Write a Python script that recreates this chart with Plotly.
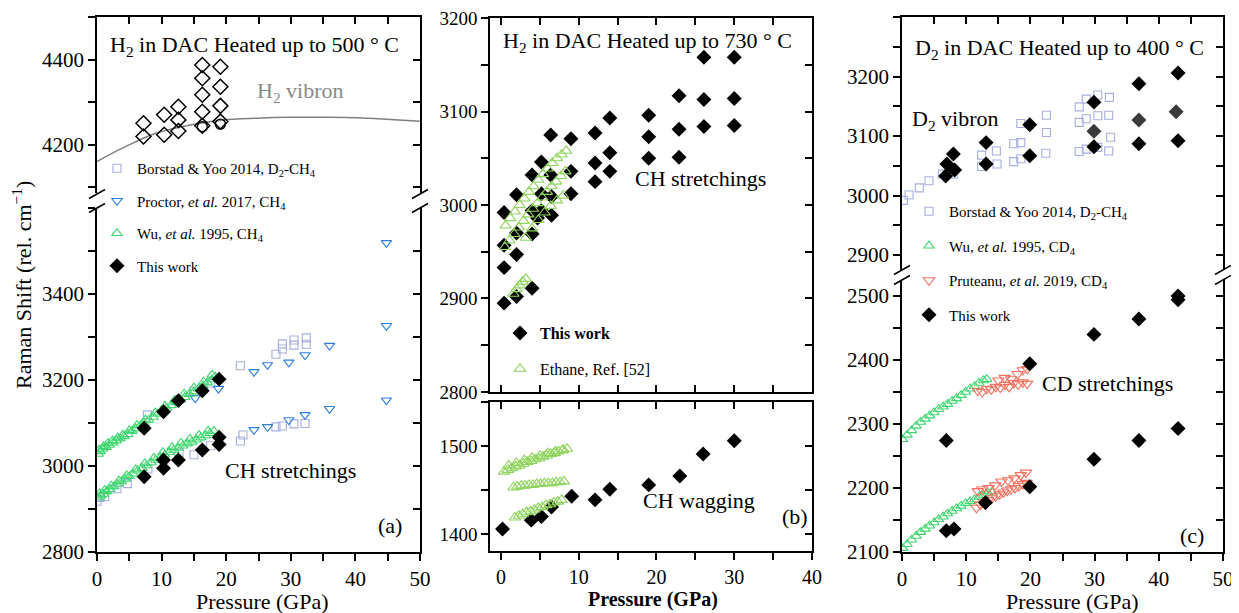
import plotly.graph_objects as go

W, H = 1239, 613
OFF = 8  # the page body margin shifts the figure by 8 px; compensate
FONT = "Liberation Serif"

# ---------------- Panel (a) data ----------------
a_h2_P = [7.2, 7.2, 10.4, 10.4, 12.6, 12.6, 12.6, 16.3, 16.3, 16.3, 16.3, 16.3, 19.1, 19.1, 19.1, 19.1]
a_h2_v = [4251, 4220, 4271, 4224, 4290, 4259, 4233, 4388, 4357, 4318, 4278, 4245, 4384, 4337, 4292, 4255]
a_h2c_P = [16.3, 19.1]
a_h2c_v = [4243, 4249]
a_vib_P = [0.0, 4.0, 9.2, 14.4, 19.5, 24.7, 29.9, 35.0, 40.2, 45.4, 50.0]
a_vib_v = [4161, 4193, 4228, 4247, 4259, 4263, 4265, 4265, 4264, 4260, 4256]

a_bor_P = [0.0, 0.5, 1.2, 3.1, 4.7, 7.9, 12.7, 15.0, 17.6, 22.2, 22.6, 27.7, 28.7, 30.5, 32.2,
           7.8, 15.0, 17.6, 22.2, 27.7, 28.7, 28.7, 30.5, 30.5, 32.4, 32.4]
a_bor_v = [2918, 2927, 2929, 2947, 2959, 2993, 3030, 3026, 3047, 3058, 3072, 3091, 3093, 3098, 3099,
           3119, 3174, 3193, 3233, 3260, 3284, 3272, 3293, 3281, 3298, 3283]

a_pro_P = [15.2, 18.8, 24.3, 26.4, 29.7, 32.2, 36.0, 44.8, 44.8, 24.3, 26.4, 29.7, 32.2, 36.0, 44.8]
a_pro_v = [3158, 3180, 3219, 3235, 3241, 3258, 3280, 3519, 3326, 3084, 3091, 3107, 3119, 3133, 3153]

a_wu_P = [0.2, 0.5, 0.9, 1.4, 1.9, 2.5, 3.0, 3.6, 4.2, 4.8, 5.4, 6.0, 6.7, 7.3, 8.0, 8.7, 9.4, 10.1,
          10.8, 11.5, 12.2, 12.9, 13.6, 14.3, 15.0, 15.7, 16.4, 17.1, 17.8, 18.3,
          0.3, 1.0, 1.7, 2.4, 3.2, 4.0, 5.0, 6.2, 7.5, 9.0, 10.5, 12.0, 13.5, 15.0, 16.5, 17.8,
          0.2, 0.6, 1.0, 1.5, 2.0, 2.6, 3.2, 3.8, 4.4, 5.0, 5.6, 6.3, 7.0, 7.7, 8.4, 9.1, 9.8, 10.5,
          11.2, 11.9, 12.6, 13.3, 14.0, 14.7, 15.4, 16.1, 16.8, 17.5, 18.1,
          0.4, 1.2, 2.2, 3.4, 4.6, 6.0, 7.4, 8.8, 10.2, 11.6, 13.0, 14.4, 15.8, 17.2]
a_wu_v = [3028, 3034, 3040, 3044, 3049, 3054, 3059, 3064, 3069, 3074, 3081, 3087, 3094, 3100, 3107, 3114,
          3121, 3128, 3135, 3141, 3148, 3154, 3160, 3167, 3173, 3180, 3187, 3194, 3201, 3207,
          3038, 3046, 3053, 3059, 3066, 3073, 3083, 3095, 3108, 3124, 3140, 3153, 3168, 3182, 3196, 3212,
          2926, 2931, 2935, 2941, 2946, 2952, 2958, 2964, 2970, 2976, 2982, 2989, 2995, 3001, 3008, 3014,
          3020, 3026, 3032, 3037, 3042, 3047, 3052, 3056, 3061, 3066, 3071, 3076, 3081,
          2936, 2944, 2954, 2966, 2978, 2992, 3006, 3019, 3032, 3044, 3054, 3063, 3072, 3082]

a_tw_P = [7.3, 10.3, 12.6, 16.3, 18.9, 7.3, 10.3, 10.3, 12.6, 16.3, 18.9, 18.9]
a_tw_v = [3088, 3126, 3152, 3175, 3202, 2975, 3014, 2995, 3014, 3037, 3067, 3050]

# ---------------- Panel (b) data ----------------
b_tw_up_P = [26.1, 30.0, 22.9, 26.1, 30.0, 26.1, 30.0, 22.9, 22.9, 19.0, 19.0, 19.0, 14.0, 14.0, 14.0,
             12.1, 12.1, 12.1, 9.0, 9.0, 9.0, 6.4, 6.4, 5.2, 4.0, 2.0, 0.4, 0.4, 0.4, 0.4,
             2.0, 2.0, 2.0, 4.0, 4.0, 5.2, 5.2, 4.0, 6.5, 6.5, 4.7]
b_tw_up_v = [3158, 3158, 3117, 3113, 3114, 3084, 3085, 3081, 3051, 3096, 3073, 3050, 3093, 3056, 3036,
             3077, 3045, 3025, 3071, 3036, 3012, 3075, 3032, 3046, 3032, 3011, 2992, 2957, 2933, 2895,
             2970, 2947, 2902, 2969, 2911, 3012, 2994, 2994, 3009, 2989, 2986]
b_tw_lo_P = [0.2, 3.9, 5.2, 6.5, 9.1, 12.1, 14.0, 19.0, 23.0, 26.0, 30.0]
b_tw_lo_v = [1406, 1416, 1420, 1431, 1443, 1439, 1451, 1456, 1466, 1491, 1506]

b_eth_up_P = [0.6, 1.2, 1.8, 2.4, 3.0, 3.6, 4.2, 4.8, 5.4, 6.0, 6.6, 7.2, 7.8, 8.4,
              0.5, 1.1, 1.7, 2.3, 2.9, 3.5, 4.1, 4.7, 5.3, 5.9, 6.5, 7.1, 7.7, 8.3,
              3.2, 4.0, 4.8, 5.6, 6.4, 7.2, 8.0,
              1.6, 2.0, 2.4, 2.8, 3.2]
b_eth_up_v = [2978, 2986, 2993, 3000, 3007, 3014, 3020, 3027, 3033, 3039, 3045, 3050, 3054, 3058,
              2955, 2962, 2969, 2976, 2983, 2990, 2996, 3002, 3008, 3014, 3020, 3025, 3031, 3036,
              2965, 2975, 2984, 2992, 2999, 3005, 3010,
              2905, 2910, 2914, 2918, 2921]
b_eth_lo_P = [0.4, 0.9, 1.4, 1.9, 2.4, 2.9, 3.4, 3.9, 4.4, 4.9, 5.4, 5.9, 6.4, 6.9, 7.4, 7.9, 8.5,
              1.0, 2.0, 3.0, 4.0, 5.0, 6.0, 7.0, 8.0,
              1.6, 2.1, 2.6, 3.1, 3.6, 4.1, 4.6, 5.1, 5.6, 6.1, 6.6, 7.1, 7.6, 8.1,
              1.8, 2.3, 2.8, 3.3, 3.8, 4.3, 4.8, 5.3, 5.8, 6.3, 6.8, 7.3, 7.8]
b_eth_lo_v = [1471, 1473, 1475, 1477, 1478, 1480, 1482, 1483, 1485, 1486, 1488, 1489, 1491, 1492, 1494, 1495, 1497,
              1478, 1481, 1484, 1487, 1489, 1492, 1494, 1496,
              1453, 1454, 1455, 1455, 1456, 1456, 1457, 1457, 1458, 1458, 1458, 1459, 1459, 1460,
              1419, 1421, 1423, 1425, 1426, 1428, 1430, 1431, 1433, 1434, 1436, 1437, 1439]

# ---------------- Panel (c) data ----------------
c_bor_P = [0.2, 1.1, 2.7, 4.2, 6.3, 8.0, 12.4, 12.4, 14.7, 14.8, 17.4, 18.5, 17.4, 18.5, 18.5,
           22.5, 22.5, 22.4, 27.6, 28.7, 27.6, 28.7, 27.6, 28.7, 30.5, 30.5, 30.5, 32.3, 32.2, 32.5, 32.2]
c_bor_v = [2992, 3001, 3013, 3025, 3036, 3036, 3068, 3049, 3075, 3053, 3087, 3089, 3057, 3062, 3121,
           3135, 3106, 3071, 3149, 3162, 3123, 3129, 3074, 3078, 3169, 3134, 3081, 3165, 3135, 3098, 3075]
c_tw_up_P = [43.0, 36.9, 29.9, 43.0, 36.9, 29.9, 19.9, 19.9, 13.1, 13.1, 8.0, 7.0, 8.2, 6.8]
c_tw_up_v = [3206, 3188, 3157, 3092, 3087, 3082, 3119, 3067, 3089, 3053, 3070, 3053, 3043, 3033]
c_grey_P = [42.7, 36.9, 29.9]
c_grey_v = [3141, 3127, 3108]
c_tw_lo_P = [43.0, 43.0, 36.9, 29.9, 19.9, 43.0, 36.9, 29.9, 6.9, 19.9, 13.0, 6.9, 8.1]
c_tw_lo_v = [2494, 2500, 2464, 2440, 2394, 2293, 2274, 2245, 2274, 2202, 2177, 2133, 2136]

c_wu_P = [0.1, 0.8, 1.5, 2.2, 2.9, 3.6, 4.3, 5.0, 5.7, 6.4, 7.1, 7.8, 8.5, 9.2, 9.9, 10.6, 11.3, 12.0, 12.7, 13.2,
          0.1, 0.8, 1.5, 2.2, 2.9, 3.6, 4.3, 5.0, 5.7, 6.4, 7.1, 7.8, 8.5, 9.2, 9.9, 10.6, 11.3, 12.0, 12.7, 13.4, 14.0]
c_wu_v = [2276, 2283, 2290, 2297, 2303, 2308, 2313, 2318, 2323, 2327, 2331, 2336, 2340, 2345, 2350, 2355, 2359, 2364, 2368, 2370,
          2106, 2112, 2119, 2125, 2131, 2136, 2141, 2146, 2151, 2155, 2160, 2164, 2168, 2172, 2176, 2179, 2182, 2186, 2189, 2192, 2194]

c_pru_P = [11.8, 12.5, 13.2, 13.9, 14.6, 15.3, 16.0, 16.7, 17.4, 18.1, 18.8, 19.5,
           15.0, 16.0, 17.0, 18.0, 18.8, 19.5,
           11.6, 12.2, 12.8, 13.4, 14.0, 14.6, 15.2, 15.8, 16.4, 17.0, 17.6, 18.2, 18.8, 19.4,
           11.8, 12.5, 13.5, 14.5, 15.5, 16.5, 17.5, 18.5, 19.3]
c_pru_v = [2352, 2350, 2355, 2354, 2358, 2357, 2361, 2358, 2364, 2362, 2365, 2363,
           2368, 2372, 2370, 2378, 2384, 2386,
           2169, 2174, 2178, 2181, 2184, 2187, 2190, 2193, 2196, 2198, 2200, 2203, 2206, 2208,
           2195, 2198, 2200, 2204, 2210, 2212, 2215, 2220, 2224]

# tick labels shown on the y axes
a_up_ticks = [4200, 4400]
a_lo_ticks = [2800, 3000, 3200, 3400]
b_up_ticks = [2800, 2900, 3000, 3100, 3200]
b_lo_ticks = [1400, 1500]
c_up_ticks = [2900, 3000, 3100, 3200]
c_lo_ticks = [2100, 2200, 2300, 2400, 2500]

# ---------------- styles ----------------
BLACK_D = dict(symbol="diamond", size=11.5, color="black", line=dict(width=0))
C_BOR = "#a8aee0"
C_PRO = "#2d7fe0"
C_WU = "#3ed66e"
C_ETH = "#8fd45c"
C_PRU = "#f5705f"


def openm(sym, size, col, lw=1.1):
    return dict(symbol=sym, size=size, color=col, line=dict(width=lw, color=col))


fig = go.Figure()

# ---- panel (a) upper (x, y)
fig.add_trace(go.Scatter(x=a_vib_P, y=a_vib_v, mode="lines", line=dict(color="#808080", width=1.5, shape="spline"),
                         xaxis="x", yaxis="y", showlegend=False, hoverinfo="skip"))
fig.add_trace(go.Scatter(x=a_h2c_P, y=a_h2c_v, mode="markers", marker=openm("circle-open", 10, "black", 1.4),
                         xaxis="x", yaxis="y", showlegend=False))
fig.add_trace(go.Scatter(x=a_h2_P, y=a_h2_v, mode="markers", marker=openm("diamond-open", 11.5, "black", 1.5),
                         xaxis="x", yaxis="y", showlegend=False))
# ---- panel (a) lower (x2, y2)
fig.add_trace(go.Scatter(x=a_bor_P, y=a_bor_v, mode="markers", marker=openm("square-open", 8, C_BOR),
                         xaxis="x2", yaxis="y2", name="Borstad &amp; Yoo 2014, D<sub>2</sub>-CH<sub>4</sub>",
                         legend="legend", legendgroup="a1"))
fig.add_trace(go.Scatter(x=a_pro_P, y=a_pro_v, mode="markers", marker=openm("triangle-down-open", 9, C_PRO),
                         xaxis="x2", yaxis="y2", name="Proctor, <i>et al.</i> 2017, CH<sub>4</sub>",
                         legend="legend", legendgroup="a2"))
fig.add_trace(go.Scatter(x=a_wu_P, y=a_wu_v, mode="markers", marker=openm("triangle-up-open", 9, C_WU),
                         xaxis="x2", yaxis="y2", name="Wu, <i>et al.</i> 1995, CH<sub>4</sub>",
                         legend="legend", legendgroup="a3"))
fig.add_trace(go.Scatter(x=a_tw_P, y=a_tw_v, mode="markers", marker=BLACK_D,
                         xaxis="x2", yaxis="y2", name="This work", legend="legend", legendgroup="a4"))

# ---- panel (b) upper (x3,y3) and lower (x4,y4)
fig.add_trace(go.Scatter(x=b_tw_up_P, y=b_tw_up_v, mode="markers", marker=BLACK_D,
                         xaxis="x3", yaxis="y3", name="<b>This work</b>", legend="legend2", legendgroup="b1"))
fig.add_trace(go.Scatter(x=b_tw_lo_P, y=b_tw_lo_v, mode="markers", marker=BLACK_D,
                         xaxis="x4", yaxis="y4", showlegend=False, legendgroup="b1", legend="legend2"))
fig.add_trace(go.Scatter(x=b_eth_up_P, y=b_eth_up_v, mode="markers", marker=openm("triangle-up-open", 10, C_ETH),
                         xaxis="x3", yaxis="y3", name="Ethane, Ref. [52]", legend="legend2", legendgroup="b2"))
fig.add_trace(go.Scatter(x=b_eth_lo_P, y=b_eth_lo_v, mode="markers", marker=openm("triangle-up-open", 10, C_ETH),
                         xaxis="x4", yaxis="y4", showlegend=False, legendgroup="b2", legend="legend2"))

# ---- panel (c) upper (x5,y5) and lower (x6,y6)
fig.add_trace(go.Scatter(x=c_bor_P, y=c_bor_v, mode="markers", marker=openm("square-open", 8, C_BOR),
                         xaxis="x5", yaxis="y5", name="Borstad &amp; Yoo 2014, D<sub>2</sub>-CH<sub>4</sub>",
                         legend="legend3", legendgroup="c1"))
fig.add_trace(go.Scatter(x=c_wu_P, y=c_wu_v, mode="markers", marker=openm("triangle-up-open", 9, C_WU),
                         xaxis="x6", yaxis="y6", name="Wu, <i>et al.</i> 1995, CD<sub>4</sub>",
                         legend="legend3", legendgroup="c2"))
fig.add_trace(go.Scatter(x=c_pru_P, y=c_pru_v, mode="markers", marker=openm("triangle-down-open", 10, C_PRU),
                         xaxis="x6", yaxis="y6", name="Pruteanu, <i>et al.</i> 2019, CD<sub>4</sub>",
                         legend="legend3", legendgroup="c3"))
fig.add_trace(go.Scatter(x=c_grey_P, y=c_grey_v, mode="markers",
                         marker=dict(symbol="diamond", size=11.5, color="#3a3a3a"),
                         xaxis="x5", yaxis="y5", showlegend=False))
fig.add_trace(go.Scatter(x=c_tw_up_P, y=c_tw_up_v, mode="markers", marker=BLACK_D,
                         xaxis="x5", yaxis="y5", name="This work", legend="legend3", legendgroup="c4"))
fig.add_trace(go.Scatter(x=c_tw_lo_P, y=c_tw_lo_v, mode="markers", marker=BLACK_D,
                         xaxis="x6", yaxis="y6", showlegend=False, legend="legend3", legendgroup="c4"))

# empty helper traces so the mirrored (right / top) axes get drawn
for xa, ya in [("x", "y7"), ("x2", "y8"), ("x3", "y9"), ("x4", "y10"), ("x7", "y4"), ("x5", "y11"), ("x6", "y12")]:
    fig.add_trace(go.Scatter(x=[], y=[], xaxis=xa, yaxis=ya, showlegend=False, hoverinfo="skip"))


def PX(p):
    return (p - OFF) / W


def PY(p):
    return 1 - (p - OFF) / H


def dx(a, b):
    return [PX(a), PX(b)]


def dy(top, bot):
    return [PY(bot), PY(top)]


base = dict(showgrid=False, zeroline=False, showline=True, linecolor="black", linewidth=1.5,
            tickcolor="black", tickwidth=1.5, ticklen=7, automargin=False, ticklabeloverflow="allow")


def axis(**kw):
    d = dict(base)
    d.update(kw)
    return d


def minor(step, ticks, t0=0):
    return dict(dtick=step, tick0=t0, ticks=ticks, ticklen=7, tickwidth=1.5, tickcolor="black", showgrid=False)


XA, XB, XC = dx(97, 420), dx(490, 812), dx(902, 1223)
YAU, YAL = dy(17, 193), dy(208, 552)
YBU, YBL = dy(18, 392), dy(402, 551)
YCU, YCL = dy(17, 270), dy(280, 552)
RA, RB, RC = [0, 50], [-1.41, 40], [0, 50]
rAU, rAL = [4087, 4501], [2800, 3600]
rBU, rBL = [2799.9, 3200.1], [1381, 1550]
rCU, rCL = [2875, 3300], [2099.9, 2525]

tf = lambda s: dict(family=FONT, size=s, color="black")


def yleft(domain, rng, anchor, vals, mstep, size):
    return axis(domain=domain, range=rng, anchor=anchor, ticks="outside", tickmode="array", tickvals=vals,
                ticktext=[str(v) for v in vals], minor=minor(mstep, "outside", vals[0]), tickfont=tf(size))


def yright(rng, over, anchor, step, t0):
    return axis(range=rng, overlaying=over, anchor=anchor, side="right", ticks="inside", dtick=step, tick0=t0,
                showticklabels=False)


layout = dict(
    template="none",
    width=W, height=H, margin=dict(l=0, r=0, t=0, b=0, pad=0), autosize=False,
    paper_bgcolor="white", plot_bgcolor="rgba(0,0,0,0)",
    font=dict(family=FONT, color="black", size=16),
    # panel a
    xaxis=axis(domain=XA, range=RA, anchor="y", side="top", ticks="inside", showticklabels=False,
               dtick=10, tick0=0, minor=minor(5, "inside")),
    yaxis=yleft(YAU, rAU, "x", a_up_ticks, 100, 21),
    xaxis2=axis(domain=XA, range=RA, anchor="y2", side="bottom", ticks="outside", dtick=10, tick0=0,
                minor=minor(5, "outside"), tickfont=tf(21)),
    yaxis2=yleft(YAL, rAL, "x2", a_lo_ticks, 100, 21),
    yaxis7=yright(rAU, "y", "x", 100, 4200),
    yaxis8=yright(rAL, "y2", "x2", 100, 2800),
    # panel b
    xaxis3=axis(domain=XB, range=RB, anchor="y3", side="top", ticks="inside", mirror="ticks",
                showticklabels=False, dtick=10, tick0=0, minor=minor(5, "inside")),
    yaxis3=yleft(YBU, rBU, "x3", b_up_ticks, 50, 19),
    xaxis4=axis(domain=XB, range=RB, anchor="y4", side="bottom", ticks="outside", dtick=10, tick0=0,
                minor=minor(5, "outside"), tickfont=tf(20)),
    yaxis4=yleft(YBL, rBL, "x4", b_lo_ticks, 50, 19),
    xaxis7=axis(range=RB, overlaying="x4", anchor="y4", side="top", ticks="inside", showticklabels=False,
                dtick=5, tick0=0),
    yaxis9=yright(rBU, "y3", "x3", 50, 2800),
    yaxis10=yright(rBL, "y4", "x4", 50, 1400),
    # panel c
    xaxis5=axis(domain=XC, range=RC, anchor="y5", side="top", ticks="inside", showticklabels=False,
                dtick=10, tick0=0, minor=minor(5, "inside")),
    yaxis5=yleft(YCU, rCU, "x5", c_up_ticks, 50, 21),
    xaxis6=axis(domain=XC, range=RC, anchor="y6", side="bottom", ticks="outside", dtick=10, tick0=0,
                minor=minor(5, "outside"), tickfont=tf(21)),
    yaxis6=yleft(YCL, rCL, "x6", c_lo_ticks, 50, 21),
    yaxis11=yright(rCU, "y5", "x5", 50, 2900),
    yaxis12=yright(rCL, "y6", "x6", 50, 2100),
    legend=dict(x=PX(97), y=PY(152), xanchor="left", yanchor="top", bgcolor="rgba(0,0,0,0)",
                font=tf(15), tracegroupgap=10, itemwidth=30, traceorder="grouped", borderwidth=0),
    legend2=dict(x=PX(500), y=PY(316), xanchor="left", yanchor="top", bgcolor="rgba(0,0,0,0)",
                 font=tf(16), tracegroupgap=12, itemwidth=30, traceorder="grouped", borderwidth=0),
    legend3=dict(x=PX(909), y=PY(195), xanchor="left", yanchor="top", bgcolor="rgba(0,0,0,0)",
                 font=tf(15), tracegroupgap=12, itemwidth=30, traceorder="grouped", borderwidth=0),
)
fig.update_layout(**layout)


def ann(text, px, py, size=22, color="black", angle=0):
    return dict(text=text, x=PX(px), y=PY(py), xref="paper", yref="paper", showarrow=False,
                xanchor="center", yanchor="middle", textangle=angle, font=dict(family=FONT, size=size, color=color))


annotations = [
    ann("H<sub>2</sub> in DAC Heated up to 500 ° C", 254, 46),
    ann("H<sub>2</sub> in DAC Heated up to 730 ° C", 647, 42),
    ann("D<sub>2</sub> in DAC Heated up to 400 ° C", 1059, 49),
    ann("H<sub>2</sub> vibron", 300, 92, color="#8a8a8a"),
    ann("D<sub>2</sub> vibron", 955, 120),
    ann("CH stretchings", 290, 470),
    ann("CH stretchings", 701, 179),
    ann("CH wagging", 699, 500),
    ann("CD stretchings", 1107, 383),
    ann("(a)", 390, 525),
    ann("(b)", 795, 516),
    ann("(c)", 1192, 535),
    ann("Pressure (GPa)", 262, 601),
    ann("<b>Pressure (GPa)</b>", 653, 599, size=20),
    ann("Pressure (GPa)", 1072, 601),
    ann("Raman Shift (rel. cm<sup>−1</sup>)", 22, 285, angle=-90),
]
fig.update_layout(annotations=annotations)

# axis break marks
shapes = []
for xc, yc in [(97, 194), (97, 208), (420, 194), (420, 208), (902, 270), (902, 280), (1223, 270), (1223, 280)]:
    shapes.append(dict(type="line", xref="paper", yref="paper",
                       x0=PX(xc - 8), y0=PY(yc + 4.5), x1=PX(xc + 8), y1=PY(yc - 4.5),
                       line=dict(color="black", width=1.5)))
fig.update_layout(shapes=shapes)

fig.write_html("out.html")
